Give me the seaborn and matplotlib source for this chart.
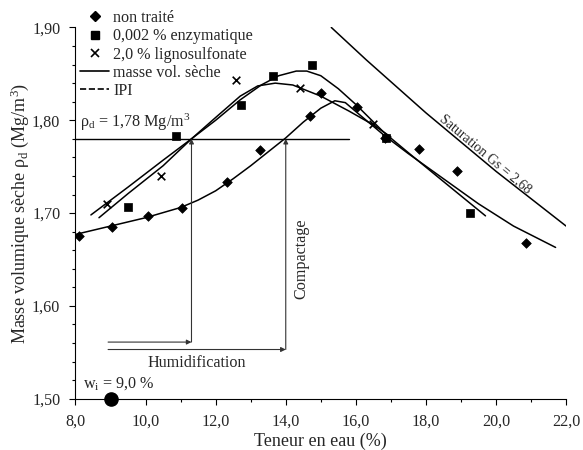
import numpy as np
import pandas as pd
import matplotlib
matplotlib.use("Agg")
import matplotlib.pyplot as plt
from matplotlib.lines import Line2D
import seaborn as sns

# ---------------- data ----------------
nt_w = [8.1, 9.05, 10.06, 11.05, 12.31, 13.27, 14.68, 15.01, 16.04, 16.82, 17.8, 18.9, 20.87]
nt_v = [1.675, 1.685, 1.697, 1.705, 1.734, 1.768, 1.805, 1.829, 1.814, 1.781, 1.769, 1.745, 1.668]

enz_w = [9.49, 10.87, 12.72, 13.64, 14.75, 16.87, 19.25]
enz_v = [1.707, 1.783, 1.816, 1.848, 1.860, 1.781, 1.700]

lig_w = [8.89, 10.43, 12.59, 14.40, 16.48]
lig_v = [1.710, 1.740, 1.843, 1.835, 1.796]

# fitted curves (masse vol. seche)
nt_cw = [8.0, 9.0, 10.0, 11.0, 11.5, 12.0, 12.5, 13.0, 13.5, 14.0, 14.5, 15.0, 15.4, 15.7, 16.2, 16.8, 17.5, 18.5, 19.5, 20.5, 21.7]
nt_cv = [1.677, 1.686, 1.695, 1.706, 1.714, 1.724, 1.737, 1.751, 1.766, 1.781, 1.798, 1.813, 1.821, 1.819, 1.803, 1.784, 1.764, 1.737, 1.710, 1.686, 1.663]

enz_cw = [8.67, 9.5, 10.5, 11.31, 12.0, 12.7, 13.3, 13.8, 14.3, 14.6, 15.0, 15.5, 16.0, 16.8, 17.5, 18.5, 19.7]
enz_cv = [1.695, 1.721, 1.751, 1.780, 1.800, 1.822, 1.838, 1.848, 1.853, 1.853, 1.848, 1.834, 1.817, 1.787, 1.765, 1.734, 1.697]

lig_cw = [8.44, 9.5, 10.5, 11.31, 12.0, 12.7, 13.2, 13.7, 14.2, 15.0, 15.8, 16.5, 17.0]
lig_cv = [1.698, 1.728, 1.757, 1.780, 1.803, 1.826, 1.837, 1.840, 1.838, 1.826, 1.810, 1.795, 1.782]

# saturation line Gs = 2,68
sat_w = [15.3, 16.3, 18.0, 20.0, 22.0]
sat_v = [1.900, 1.865, 1.808, 1.745, 1.686]

rho_ref = 1.78
rho_line_w = [8.0, 15.8]
w_init = 9.0
w_opt_1 = 11.31
w_opt_2 = 14.0

xticks = [8.0, 10.0, 12.0, 14.0, 16.0, 18.0, 20.0, 22.0]
xtick_labels = ["8,0", "10,0", "12,0", "14,0", "16,0", "18,0", "20,0", "22,0"]
yticks = [1.50, 1.60, 1.70, 1.80, 1.90]
ytick_labels = ["1,50", "1,60", "1,70", "1,80", "1,90"]

legend_labels = ["non traité", "0,002 % enzymatique", "2,0 % lignosulfonate", "masse vol. sèche", "IPI"]

# ---------------- style ----------------
sns.set_theme(style="ticks")
plt.rcParams["font.family"] = ["Liberation Serif", "DejaVu Serif"]
plt.rcParams["mathtext.fontset"] = "custom"
plt.rcParams["mathtext.rm"] = "Liberation Serif"
plt.rcParams["mathtext.it"] = "Liberation Serif:italic"
plt.rcParams["axes.linewidth"] = 0.8

FS = 11.6
fig = plt.figure(figsize=(5.83, 4.5), dpi=100)
ax = fig.add_axes([0.1295, 0.114, 0.8415, 0.825])

# curves
for cw, cv in [(nt_cw, nt_cv), (enz_cw, enz_cv), (lig_cw, lig_cv), (sat_w, sat_v)]:
    df = pd.DataFrame({"w": cw, "v": cv})
    sns.lineplot(data=df, x="w", y="v", sort=False, estimator=None, color="black", lw=1.1, ax=ax)

# reference horizontal line
sns.lineplot(x=rho_line_w, y=[rho_ref, rho_ref], color="black", lw=1.0, ax=ax)

# points
sns.scatterplot(x=nt_w, y=nt_v, marker="D", s=24, color="black", edgecolor="black", linewidth=0.5, ax=ax, zorder=5)
sns.scatterplot(x=enz_w, y=enz_v, marker="s", s=34, color="black", edgecolor="black", linewidth=0.5, ax=ax, zorder=5)
sns.scatterplot(x=lig_w, y=lig_v, marker="x", s=30, color="black", linewidth=1.2, ax=ax, zorder=5)

# initial water content point
ax.scatter([w_init], [1.50], s=90, color="black", zorder=6, clip_on=False)
ax.text(8.2, 1.507, "w$_\\mathregular{i}$ = 9,0 %", fontsize=FS, ha="left", va="bottom")

# arrows: humidification + compactage
arrow_kw = dict(arrowstyle="-|>", color="#333333", lw=0.8, mutation_scale=7, shrinkA=0, shrinkB=0)
for wopt, ylev in [(w_opt_1, 1.561), (w_opt_2, 1.553)]:
    ax.annotate("", xy=(wopt, ylev), xytext=(8.93, ylev), arrowprops=arrow_kw)
    ax.annotate("", xy=(wopt, rho_ref), xytext=(wopt, ylev), arrowprops=arrow_kw)

ax.text(11.45, 1.538, "Humidification", fontsize=FS, ha="center", va="center")
ax.text(14.45, 1.651, "Compactage", fontsize=FS, ha="center", va="center", rotation=90)
ax.text(8.13, 1.786, "ρ$_\\mathregular{d}$ = 1,78 Mg/m$^\\mathregular{3}$", fontsize=FS, ha="left", va="bottom")
ax.text(19.7, 1.764, "Saturation Gs = 2,68", fontsize=10, ha="center", va="center", rotation=-40)

# axes
ax.set_xlim(8.0, 22.0)
ax.set_ylim(1.50, 1.90)
ax.set_xticks(xticks)
ax.set_xticklabels(xtick_labels, fontsize=FS)
ax.set_yticks(yticks)
ax.set_yticklabels(ytick_labels, fontsize=FS)
ax.set_xticks(np.arange(9, 22, 2), minor=True)
ax.set_yticks(np.arange(1.52, 1.90, 0.02), minor=True)
ax.tick_params(which="major", direction="out", length=4, width=0.8, color="black", pad=7)
ax.tick_params(which="minor", direction="out", length=2.5, width=0.8, color="black")
ax.set_xlabel("Teneur en eau (%)", fontsize=13)
ax.set_ylabel("Masse volumique sèche ρ$_\\mathregular{d}$ (Mg/m$^\\mathregular{3}$)", fontsize=13)
ax.xaxis.label.set_va("center")
ax.yaxis.label.set_va("center")
ax.xaxis.set_label_coords(0.5, -0.116)
ax.yaxis.set_label_coords(-0.113, 0.5)
sns.despine(ax=ax)
for sp in ["left", "bottom"]:
    ax.spines[sp].set_color("black")

# legend
handles = [
    Line2D([], [], marker="D", color="black", ls="none", markersize=4.8),
    Line2D([], [], marker="s", color="black", ls="none", markersize=5.8),
    Line2D([], [], marker="x", color="black", ls="none", markersize=5.5, mew=1.2),
    Line2D([], [], color="black", lw=1.2),
    Line2D([], [], color="black", lw=1.2, ls="--"),
]
ax.legend(handles, legend_labels, loc="upper left", bbox_to_anchor=(0.01, 1.047), frameon=False,
          fontsize=FS, handlelength=1.8, handletextpad=0.25, labelspacing=0.14, borderpad=0, borderaxespad=0)

fig.savefig("out.png", dpi=100)
